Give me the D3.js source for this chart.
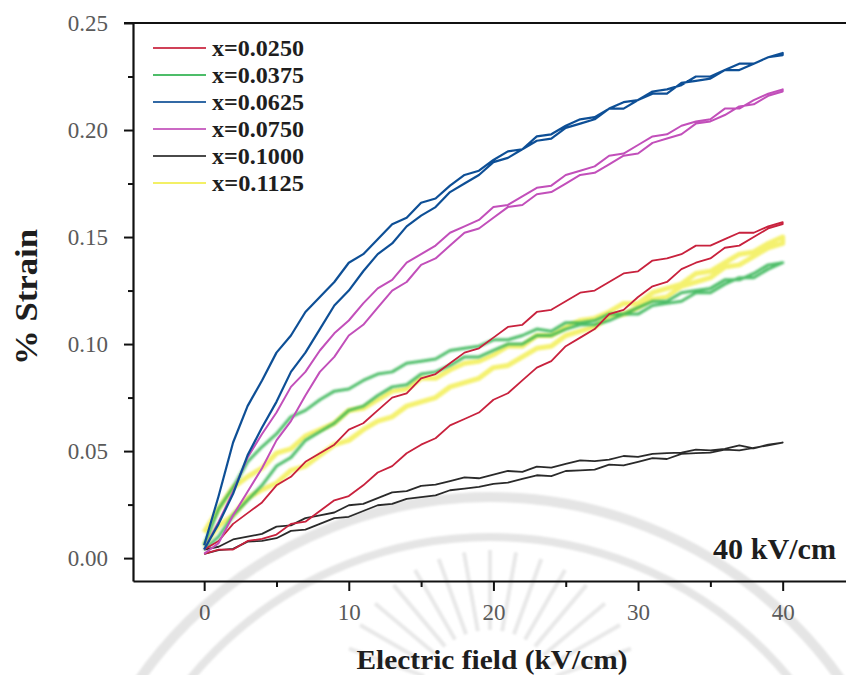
<!DOCTYPE html>
<html>
<head>
<meta charset="utf-8">
<script src="https://cdn.jsdelivr.net/npm/d3@7"></script>
<style>
  html, body { margin: 0; padding: 0; background: #fff; }
  svg { display: block; }
</style>
</head>
<body>
<svg id="chart" width="846" height="675"></svg>
<script>
// Electric field steps (kV/cm) shared by every branch
const field = [0,1,2,3,4,5,6,7,8,9,10,11,12,13,14,15,16,17,18,19,20,
               21,22,23,24,25,26,27,28,29,30,31,32,33,34,35,36,37,38,39,40];

// Compositions shown in the legend
const compositions = ["x=0.0250", "x=0.0375", "x=0.0625", "x=0.0750", "x=0.1000", "x=0.1125"];
const colors = ["#c8203c", "#2fb24f", "#0f4f96", "#c24fba", "#2b2b2b", "#f2ee4c"];

// % strain, rising-field branch and falling-field branch for each composition
const strainUp_0250 = [0.002,0.004,0.004,0.008,0.009,0.011,0.016,0.017,0.022,0.027,0.029,0.034,0.040,0.043,0.049,0.053,0.056,0.062,0.065,0.068,0.074,0.077,0.083,0.089,0.092,0.099,0.103,0.107,0.114,0.116,0.122,0.127,0.129,0.135,0.138,0.140,0.145,0.146,0.150,0.154,0.156];
const strainDown_0250 = [0.004,0.008,0.016,0.021,0.026,0.034,0.038,0.045,0.049,0.053,0.060,0.063,0.069,0.075,0.077,0.084,0.086,0.091,0.096,0.098,0.103,0.108,0.109,0.115,0.116,0.120,0.124,0.125,0.129,0.133,0.134,0.139,0.140,0.142,0.146,0.146,0.149,0.152,0.152,0.155,0.157];

const strainUp_0375 = [0.004,0.010,0.020,0.027,0.034,0.043,0.047,0.055,0.059,0.063,0.069,0.071,0.076,0.080,0.081,0.086,0.087,0.090,0.094,0.094,0.097,0.100,0.100,0.104,0.104,0.107,0.109,0.109,0.111,0.114,0.114,0.118,0.119,0.120,0.124,0.124,0.128,0.131,0.131,0.135,0.138];
const strainDown_0375 = [0.006,0.023,0.033,0.045,0.052,0.058,0.066,0.069,0.074,0.078,0.079,0.083,0.086,0.087,0.091,0.092,0.093,0.097,0.098,0.099,0.102,0.102,0.104,0.107,0.106,0.110,0.110,0.111,0.114,0.114,0.117,0.120,0.120,0.124,0.125,0.126,0.130,0.130,0.133,0.137,0.138];

const strainUp_0625 = [0.004,0.016,0.030,0.048,0.061,0.073,0.087,0.096,0.107,0.118,0.125,0.134,0.142,0.147,0.155,0.160,0.164,0.171,0.175,0.179,0.185,0.187,0.191,0.195,0.196,0.201,0.203,0.205,0.210,0.210,0.214,0.217,0.217,0.222,0.223,0.224,0.228,0.228,0.231,0.234,0.235];
const strainDown_0625 = [0.006,0.029,0.054,0.071,0.083,0.096,0.104,0.115,0.122,0.129,0.138,0.142,0.149,0.156,0.159,0.166,0.168,0.174,0.179,0.181,0.186,0.190,0.191,0.197,0.198,0.202,0.205,0.206,0.210,0.213,0.214,0.218,0.219,0.221,0.225,0.225,0.228,0.231,0.231,0.234,0.236];

const strainUp_0750 = [0.002,0.007,0.020,0.031,0.042,0.055,0.064,0.076,0.087,0.094,0.104,0.109,0.117,0.125,0.129,0.137,0.140,0.146,0.152,0.154,0.159,0.164,0.165,0.170,0.171,0.175,0.179,0.180,0.184,0.188,0.189,0.194,0.196,0.198,0.203,0.204,0.207,0.211,0.212,0.216,0.218];
const strainDown_0750 = [0.004,0.017,0.031,0.047,0.058,0.068,0.080,0.087,0.097,0.105,0.111,0.119,0.126,0.130,0.138,0.142,0.146,0.152,0.155,0.158,0.164,0.165,0.169,0.173,0.174,0.179,0.181,0.183,0.188,0.189,0.193,0.197,0.198,0.202,0.204,0.205,0.210,0.210,0.214,0.217,0.219];

const strainUp_1000 = [0.0020,0.0037,0.0043,0.0077,0.0080,0.0093,0.0127,0.0133,0.0160,0.0187,0.0193,0.0220,0.0247,0.0253,0.0277,0.0285,0.0293,0.0317,0.0325,0.0333,0.0347,0.0353,0.0370,0.0387,0.0383,0.0407,0.0410,0.0413,0.0437,0.0433,0.0450,0.0467,0.0463,0.0487,0.0490,0.0493,0.0507,0.0503,0.0515,0.0527,0.0540];
const strainDown_1000 = [0.0040,0.0053,0.0087,0.0100,0.0113,0.0147,0.0153,0.0187,0.0200,0.0213,0.0247,0.0253,0.0280,0.0307,0.0313,0.0337,0.0343,0.0360,0.0377,0.0373,0.0390,0.0407,0.0403,0.0427,0.0423,0.0440,0.0457,0.0453,0.0460,0.0477,0.0473,0.0487,0.0490,0.0493,0.0507,0.0503,0.0510,0.0527,0.0513,0.0530,0.0540];

const strainUp_1125 = [0.006,0.015,0.020,0.028,0.032,0.035,0.041,0.043,0.048,0.053,0.055,0.060,0.064,0.066,0.071,0.073,0.075,0.080,0.082,0.084,0.089,0.090,0.094,0.098,0.099,0.104,0.106,0.108,0.113,0.114,0.117,0.121,0.122,0.127,0.129,0.131,0.136,0.137,0.141,0.145,0.147];
const strainDown_1125 = [0.012,0.023,0.033,0.038,0.042,0.049,0.051,0.057,0.060,0.063,0.069,0.070,0.074,0.078,0.079,0.084,0.084,0.088,0.091,0.092,0.095,0.099,0.099,0.104,0.104,0.108,0.111,0.112,0.115,0.119,0.119,0.124,0.126,0.128,0.133,0.134,0.138,0.142,0.143,0.147,0.150];

const upBranches = [strainUp_0250, strainUp_0375, strainUp_0625, strainUp_0750, strainUp_1000, strainUp_1125];
const downBranches = [strainDown_0250, strainDown_0375, strainDown_0625, strainDown_0750, strainDown_1000, strainDown_1125];

// Axis ticks
const xTicks = [0, 10, 20, 30, 40];
const xMinorTicks = [5, 15, 25, 35];
const yTicks = [0, 0.05, 0.10, 0.15, 0.20, 0.25];
const yMinorTicks = [0.025, 0.075, 0.125, 0.175, 0.225];

const svg = d3.select("#chart");
const serif = "'Liberation Serif', 'Times New Roman', serif";

const plot = { left: 133, top: 23, right: 855, bottom: 581 };
const x = d3.scaleLinear().domain([-4.92, 45]).range([plot.left, plot.right]);
const y = d3.scaleLinear().domain([-0.0107, 0.25]).range([plot.bottom, plot.top]);

const defs = svg.append("defs");
defs.append("filter").attr("id", "soft").attr("x", "-5%").attr("y", "-5%").attr("width", "110%").attr("height", "110%")
  .append("feGaussianBlur").attr("stdDeviation", 0.45);
defs.append("filter").attr("id", "fuzzy").attr("x", "-5%").attr("y", "-5%").attr("width", "110%").attr("height", "110%")
  .append("feGaussianBlur").attr("stdDeviation", 1.0);
defs.append("filter").attr("id", "faint").append("feGaussianBlur").attr("stdDeviation", 1.2);

// Faint emblem printed behind the plot: two rings and a burst of rays
const emblem = svg.append("g").attr("filter", "url(#faint)").attr("fill", "none");
const ringCenter = [490, 925];
[[428, 10], [388, 8]].forEach(([r, w]) => {
  emblem.append("circle")
    .attr("cx", ringCenter[0]).attr("cy", ringCenter[1]).attr("r", r)
    .attr("stroke", "#e5e5e5").attr("stroke-width", w);
});
const rayAngles = [-160, -150, -140, -130, -120, -110, -100, -90, -80, -70, -60, -50, -40, -30, -20];
rayAngles.forEach(a => {
  const t = a * Math.PI / 180;
  emblem.append("line")
    .attr("x1", 490 + 70 * Math.cos(t)).attr("y1", 700 + 70 * Math.sin(t))
    .attr("x2", 490 + 150 * Math.cos(t)).attr("y2", 700 + 150 * Math.sin(t))
    .attr("stroke", "#e8e8e8").attr("stroke-width", 4);
});

// Curves: each loop drawn as rising branch then falling branch back to zero
const line = d3.line().x(d => x(d[0])).y(d => y(d[1])).curve(d3.curveLinear);
const drawOrder = [5, 1, 4, 0, 3, 2];
const widths = [1.8, 3.0, 2.2, 2.0, 1.8, 5.0];
const curves = svg.append("g");
drawOrder.forEach(i => {
  const up = field.map((f, k) => [f, upBranches[i][k]]);
  const down = field.map((f, k) => [f, downBranches[i][k]]).reverse();
  curves.append("path")
    .datum(up.concat(down))
    .attr("d", line)
    .attr("fill", "none")
    .attr("stroke", colors[i])
    .attr("stroke-width", widths[i])
    .attr("stroke-linejoin", "round")
    .attr("opacity", i === 5 ? 0.8 : (i === 1 ? 0.85 : 1))
    .attr("filter", (i === 5 || i === 1) ? "url(#fuzzy)" : "url(#soft)");
});

// Frame top line
svg.append("line")
  .attr("x1", plot.left - 9).attr("x2", 846)
  .attr("y1", plot.top).attr("y2", plot.top)
  .attr("stroke", "#111").attr("stroke-width", 2.2);

// Y axis
svg.append("g").attr("transform", `translate(${plot.left},0)`)
  .call(d3.axisLeft(y).tickValues(yTicks).tickFormat(d3.format(".2f")).tickSize(9).tickSizeOuter(0).tickPadding(16));
svg.append("g").attr("transform", `translate(${plot.left},0)`)
  .call(d3.axisLeft(y).tickValues(yMinorTicks).tickFormat("").tickSize(5).tickSizeOuter(0))
  .select(".domain").remove();

// X axis
const xAxisG = svg.append("g").attr("transform", `translate(0,${plot.bottom})`)
  .call(d3.axisBottom(x).tickValues(xTicks).tickFormat(d3.format("d")).tickSize(10).tickSizeOuter(0));
xAxisG.selectAll(".tick text").attr("y", 39).attr("dy", null);
svg.append("g").attr("transform", `translate(0,${plot.bottom})`)
  .call(d3.axisBottom(x).tickValues(xMinorTicks).tickFormat("").tickSize(6).tickSizeOuter(0))
  .select(".domain").remove();

svg.selectAll(".domain").attr("stroke", "#111").attr("stroke-width", 2.2);
svg.selectAll(".tick line").attr("stroke", "#111").attr("stroke-width", 2);
svg.selectAll(".tick text").attr("font-family", serif).attr("font-size", 23).attr("fill", "#5a5a5a");

// Axis titles
svg.append("text")
  .attr("transform", "translate(37,297) rotate(-90)")
  .attr("text-anchor", "middle")
  .attr("font-family", serif).attr("font-weight", "bold").attr("font-size", 31).attr("fill", "#1e1e1e")
  .attr("textLength", 136).attr("lengthAdjust", "spacingAndGlyphs")
  .text("% Strain");
svg.append("text")
  .attr("x", 492).attr("y", 669)
  .attr("text-anchor", "middle")
  .attr("font-family", serif).attr("font-weight", "bold").attr("font-size", 28).attr("fill", "#1e1e1e")
  .attr("textLength", 271).attr("lengthAdjust", "spacingAndGlyphs")
  .text("Electric field (kV/cm)");

// Field amplitude note
svg.append("text")
  .attr("x", 713).attr("y", 559)
  .attr("font-family", serif).attr("font-weight", "bold").attr("font-size", 29).attr("fill", "#1e1e1e")
  .attr("textLength", 123).attr("lengthAdjust", "spacingAndGlyphs")
  .text("40 kV/cm");

// Legend
const legend = svg.append("g");
compositions.forEach((c, i) => {
  const ly = 48 + i * 27;
  legend.append("line")
    .attr("x1", 153).attr("x2", 206).attr("y1", ly).attr("y2", ly)
    .attr("stroke", colors[i]).attr("stroke-width", 2).attr("opacity", 0.85);
  legend.append("text")
    .attr("x", 212).attr("y", ly + 8)
    .attr("font-family", serif).attr("font-weight", "bold").attr("font-size", 23).attr("fill", "#1e1e1e")
    .attr("textLength", 92).attr("lengthAdjust", "spacingAndGlyphs")
    .text(c);
});
</script>
</body>
</html>
